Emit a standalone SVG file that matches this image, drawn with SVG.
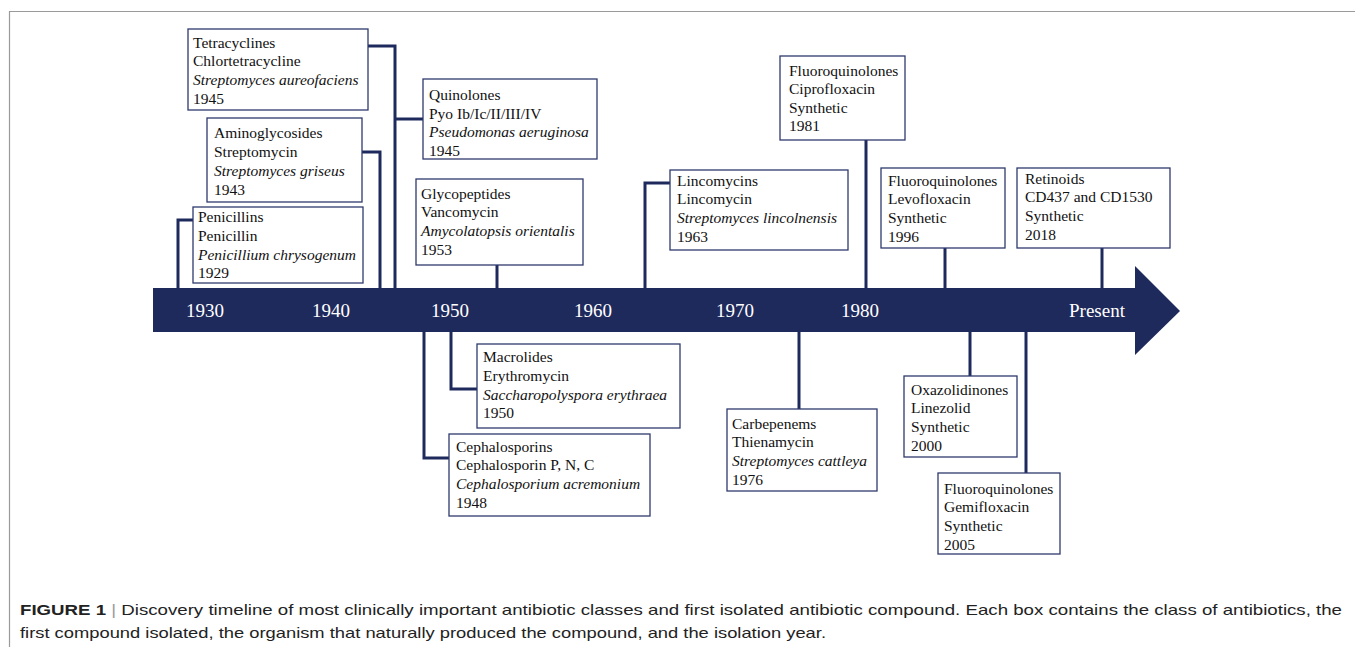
<svg xmlns="http://www.w3.org/2000/svg" width="1355" height="647" viewBox="0 0 1355 647">
<style>
.box{fill:#fff;stroke:#2e3a6e;stroke-width:1.3}
.t{font-family:"Liberation Serif","Times New Roman",serif;font-size:15.5px;fill:#111}
.i{font-style:italic}
.yr{font-family:"Liberation Serif","Times New Roman",serif;font-size:19px;fill:#fff;text-anchor:middle}
.c{fill:none;stroke:#1f2a5c;stroke-width:3}
.cap{font-family:"Liberation Sans",Arial,sans-serif;font-size:15px;fill:#222}
</style>
<rect width="1355" height="647" fill="#fff"/>
<path d="M1355 11.5 H9.5 V647" fill="none" stroke="#9a9a9a" stroke-width="1.2"/>
<g id="timeline">
<path d="M153 288 H1135 V266 L1180 311 L1135 355 V332 H153 Z" fill="#1f2a5c"/>
<text class="yr" x="205" y="317">1930</text>
<text class="yr" x="331" y="317">1940</text>
<text class="yr" x="450" y="317">1950</text>
<text class="yr" x="593" y="317">1960</text>
<text class="yr" x="735" y="317">1970</text>
<text class="yr" x="860" y="317">1980</text>
<text class="yr" x="1097" y="317">Present</text>
</g>
<g id="connectors">
<path class="c" d="M368 46 H395 V289 M395 119 H423"/>
<path class="c" d="M362 152 H380 V289"/>
<path class="c" d="M193 220 H178 V289"/>
<path class="c" d="M497 265 V289"/>
<path class="c" d="M670 183 H645 V289"/>
<path class="c" d="M866 140 V289"/>
<path class="c" d="M945 248 V289"/>
<path class="c" d="M1102 248 V289"/>
<path class="c" d="M424 331 V458 H449"/>
<path class="c" d="M451 331 V389 H477"/>
<path class="c" d="M799 331 V409"/>
<path class="c" d="M970 331 V376"/>
<path class="c" d="M1026 331 V473"/>
</g>
<g id="tetracyclines">
<rect class="box" x="188" y="29" width="180" height="81"/>
<text class="t" x="193" y="48">Tetracyclines</text>
<text class="t" x="193" y="66">Chlortetracycline</text>
<text class="t i" x="193" y="85">Streptomyces aureofaciens</text>
<text class="t" x="193" y="104">1945</text>
</g>
<g id="quinolones">
<rect class="box" x="423" y="79" width="174" height="80"/>
<text class="t" x="429" y="100">Quinolones</text>
<text class="t" x="429" y="119">Pyo Ib/Ic/II/III/IV</text>
<text class="t i" x="429" y="137">Pseudomonas aeruginosa</text>
<text class="t" x="429" y="156">1945</text>
</g>
<g id="aminoglycosides">
<rect class="box" x="207" y="118" width="155" height="84"/>
<text class="t" x="214" y="138">Aminoglycosides</text>
<text class="t" x="214" y="157">Streptomycin</text>
<text class="t i" x="214" y="176">Streptomyces griseus</text>
<text class="t" x="214" y="195">1943</text>
</g>
<g id="penicillins">
<rect class="box" x="193" y="207" width="170" height="76"/>
<text class="t" x="198" y="222">Penicillins</text>
<text class="t" x="198" y="241">Penicillin</text>
<text class="t i" x="198" y="260">Penicillium chrysogenum</text>
<text class="t" x="198" y="278">1929</text>
</g>
<g id="glycopeptides">
<rect class="box" x="416" y="179" width="167" height="86"/>
<text class="t" x="421" y="199">Glycopeptides</text>
<text class="t" x="421" y="217">Vancomycin</text>
<text class="t i" x="421" y="236">Amycolatopsis orientalis</text>
<text class="t" x="421" y="255">1953</text>
</g>
<g id="lincomycins">
<rect class="box" x="670" y="170" width="178" height="80"/>
<text class="t" x="677" y="186">Lincomycins</text>
<text class="t" x="677" y="204">Lincomycin</text>
<text class="t i" x="677" y="223">Streptomyces lincolnensis</text>
<text class="t" x="677" y="242">1963</text>
</g>
<g id="ciprofloxacin">
<rect class="box" x="780" y="56" width="125" height="84"/>
<text class="t" x="789" y="76">Fluoroquinolones</text>
<text class="t" x="789" y="94">Ciprofloxacin</text>
<text class="t" x="789" y="113">Synthetic</text>
<text class="t" x="789" y="131">1981</text>
</g>
<g id="levofloxacin">
<rect class="box" x="881" y="168" width="124" height="80"/>
<text class="t" x="888" y="186">Fluoroquinolones</text>
<text class="t" x="888" y="204">Levofloxacin</text>
<text class="t" x="888" y="223">Synthetic</text>
<text class="t" x="888" y="242">1996</text>
</g>
<g id="retinoids">
<rect class="box" x="1017" y="168" width="153" height="80"/>
<text class="t" x="1025" y="184">Retinoids</text>
<text class="t" x="1025" y="202">CD437 and CD1530</text>
<text class="t" x="1025" y="221">Synthetic</text>
<text class="t" x="1025" y="240">2018</text>
</g>
<g id="macrolides">
<rect class="box" x="477" y="344" width="203" height="84"/>
<text class="t" x="483" y="362">Macrolides</text>
<text class="t" x="483" y="381">Erythromycin</text>
<text class="t i" x="483" y="400">Saccharopolyspora erythraea</text>
<text class="t" x="483" y="418">1950</text>
</g>
<g id="cephalosporins">
<rect class="box" x="449" y="434" width="201" height="82"/>
<text class="t" x="456" y="452">Cephalosporins</text>
<text class="t" x="456" y="470">Cephalosporin P, N, C</text>
<text class="t i" x="456" y="489">Cephalosporium acremonium</text>
<text class="t" x="456" y="508">1948</text>
</g>
<g id="carbepenems">
<rect class="box" x="727" y="409" width="150" height="82"/>
<text class="t" x="732" y="429">Carbepenems</text>
<text class="t" x="732" y="447">Thienamycin</text>
<text class="t i" x="732" y="466">Streptomyces cattleya</text>
<text class="t" x="732" y="485">1976</text>
</g>
<g id="oxazolidinones">
<rect class="box" x="904" y="376" width="113" height="81"/>
<text class="t" x="911" y="395">Oxazolidinones</text>
<text class="t" x="911" y="413">Linezolid</text>
<text class="t" x="911" y="432">Synthetic</text>
<text class="t" x="911" y="451">2000</text>
</g>
<g id="gemifloxacin">
<rect class="box" x="938" y="473" width="122" height="81"/>
<text class="t" x="944" y="494">Fluoroquinolones</text>
<text class="t" x="944" y="512">Gemifloxacin</text>
<text class="t" x="944" y="531">Synthetic</text>
<text class="t" x="944" y="550">2005</text>
</g>
<g id="caption">
<text class="cap" x="20" y="615" textLength="1322" lengthAdjust="spacingAndGlyphs"><tspan font-weight="bold">FIGURE 1</tspan> <tspan fill="#999">|</tspan> Discovery timeline of most clinically important antibiotic classes and first isolated antibiotic compound. Each box contains the class of antibiotics, the</text>
<text class="cap" x="20" y="638" textLength="806" lengthAdjust="spacingAndGlyphs">first compound isolated, the organism that naturally produced the compound, and the isolation year.</text>
</g>
</svg>
